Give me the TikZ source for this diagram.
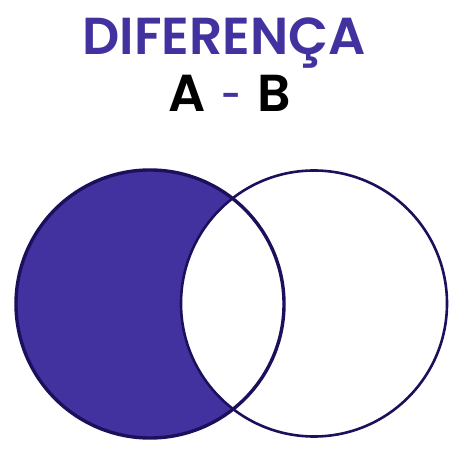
\documentclass[tikz,border=0pt]{standalone}
\usepackage{fontspec}
\setmainfont{Poppins}[BoldFont={Poppins SemiBold}]
\usetikzlibrary{positioning}
\definecolor{roxo}{RGB}{66,50,160}
\definecolor{contorno}{RGB}{28,16,92}

\begin{document}
\begin{tikzpicture}[
  x=1pt, y=1pt,
  titulo/.style={inner sep=0pt, anchor=base, font=\fontsize{52}{52}\selectfont\bfseries},
  conj/.style={draw=contorno, line width=2.6pt},
]
\useasboundingbox (0,0) rectangle (462,452);

\node[titulo, text=roxo] (tit) at (224,397) {DIFERENÇA};
\node[titulo, text=black] (op) at (229.5,340)
  {A\hspace{16pt}\raisebox{4pt}{\textcolor{roxo}{\fontsize{34}{34}\selectfont -}}\hspace{16pt}B};

\coordinate (cA) at (150,148);
\coordinate (cB) at (314,148.5);

% A - B
\fill[roxo] (cA) circle (134);
\fill[white] (cB) circle (133);
\draw[conj, line width=3.4pt] (cA) circle (134);
\draw[conj] (cB) circle (133);
\end{tikzpicture}
\end{document}
